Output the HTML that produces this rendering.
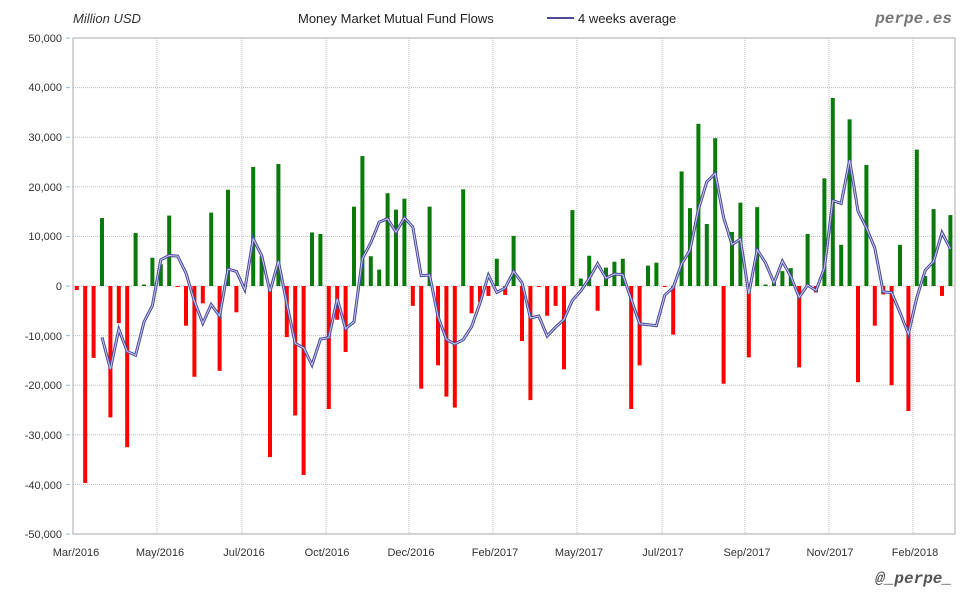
<!DOCTYPE html>
<html><head><meta charset="utf-8"><style>
html,body{margin:0;padding:0;background:#fff;width:980px;height:600px;overflow:hidden}
svg{display:block;font-family:"Liberation Sans","DejaVu Sans",sans-serif}
</style></head><body>
<svg id="s" width="980" height="600" xmlns="http://www.w3.org/2000/svg">
<rect x="0" y="0" width="980" height="600" fill="#fff"/>
<g id="grid"></g>
<g font-size="11" fill="#333" text-anchor="end">
<text x="62" y="42">50,000</text><text x="62" y="91">40,000</text><text x="62" y="141">30,000</text>
<text x="62" y="191">20,000</text><text x="62" y="240">10,000</text><text x="62" y="290">0</text>
<text x="62" y="340">-10,000</text><text x="62" y="389">-20,000</text><text x="62" y="439">-30,000</text>
<text x="62" y="489">-40,000</text><text x="62" y="538">-50,000</text>
</g>
<g font-size="11" fill="#333" text-anchor="middle">
<text x="76" y="556">Mar/2016</text><text x="160" y="556">May/2016</text><text x="244" y="556">Jul/2016</text>
<text x="327" y="556">Oct/2016</text><text x="411" y="556">Dec/2016</text><text x="495" y="556">Feb/2017</text>
<text x="579" y="556">May/2017</text><text x="663" y="556">Jul/2017</text><text x="747" y="556">Sep/2017</text>
<text x="830" y="556">Nov/2017</text><text x="915" y="556">Feb/2018</text>
</g>
<text x="73" y="23" font-size="13" font-style="italic" fill="#333">Million USD</text>
<text x="298" y="23" font-size="13" fill="#222">Money Market Mutual Fund Flows</text>
<line x1="547" y1="18" x2="574" y2="18" stroke="#4a4a9a" stroke-width="2"/>
<text x="578" y="23" font-size="13" fill="#222">4 weeks average</text>
<text x="952" y="23" font-size="16" font-weight="bold" font-style="italic" fill="#777" text-anchor="end" font-family="Liberation Mono,monospace">perpe.es</text>
<text x="952" y="583" font-size="16" font-weight="bold" font-style="italic" fill="#555" text-anchor="end" font-family="Liberation Mono,monospace">@_perpe_</text>
<g id="bars"></g>
<g id="ln"></g>
<rect x="73" y="38" width="882" height="496" fill="none" stroke="#aaa" stroke-width="1"/>
</svg>
<script>
var d=[-0.8,-39.7,-14.5,13.7,-26.5,-7.5,-32.5,10.7,0.3,5.7,4.4,14.2,-0.2,-8,-18.3,-3.5,14.8,-17.1,19.4,-5.3,0,24,6,-34.5,24.6,-10.3,-26.1,-38.1,10.8,10.5,-24.8,-6.8,-13.3,16,26.2,6,3.3,18.7,15.4,17.6,-4,-20.7,16,-16,-22.3,-24.5,19.5,-5.5,-3.2,-2,5.5,-1.8,10.1,-11.1,-23,-0.2,-6,-4,-16.8,15.3,1.5,6.1,-5,3.7,4.9,5.5,-24.8,-16,4.1,4.7,-0.2,-9.8,23.1,15.7,32.7,12.5,29.8,-19.7,10.9,16.8,-14.4,15.9,0.3,0.8,3,3.6,-16.4,10.5,-1.3,21.7,37.9,8.3,33.6,-19.4,24.4,-8,-1.7,-20,8.3,-25.2,27.5,2,15.5,-2,14.3];
var NS="http://www.w3.org/2000/svg";
function el(p,t,a){var e=document.createElementNS(NS,t);for(var k in a)e.setAttribute(k,a[k]);p.appendChild(e);return e;}
var Y=function(v){return 286-v*4.96;};
var g=document.getElementById('grid');
for(var i=1;i<10;i++){var y=38+i*49.6;el(g,'line',{x1:73,x2:955,y1:y,y2:y,stroke:'#bbb','stroke-dasharray':'1,1'});}
[157,242,326,409,493,577,662,745,829,913].forEach(function(x){el(g,'line',{x1:x,x2:x,y1:38,y2:534,stroke:'#bbb','stroke-dasharray':'1,1'});});
for(var i=0;i<11;i++){var y=38+i*49.6;el(g,'line',{x1:66,x2:70,y1:y,y2:y,stroke:'#9bc'});}
var b=document.getElementById('bars');
d.forEach(function(v,i){var x=76.8+8.4*i;var y=Y(v);el(b,'rect',{x:x-2,y:Math.min(y,286),width:4,height:Math.max(Math.abs(286-y),0.8),fill:v>=0?'#0a7a0a':'#f00'});});
var pts=[];for(var i=3;i<d.length;i++){var a=(d[i]+d[i-1]+d[i-2]+d[i-3])/4;pts.push((76.8+8.4*i).toFixed(1)+','+Y(a).toFixed(1));}
var l=document.getElementById('ln');
el(l,'polyline',{points:pts.join(' '),fill:'none',stroke:'#4a4a9a','stroke-width':3});
el(l,'polyline',{points:pts.join(' '),fill:'none',stroke:'#c8c8ec','stroke-width':1});
</script>
</body></html>
